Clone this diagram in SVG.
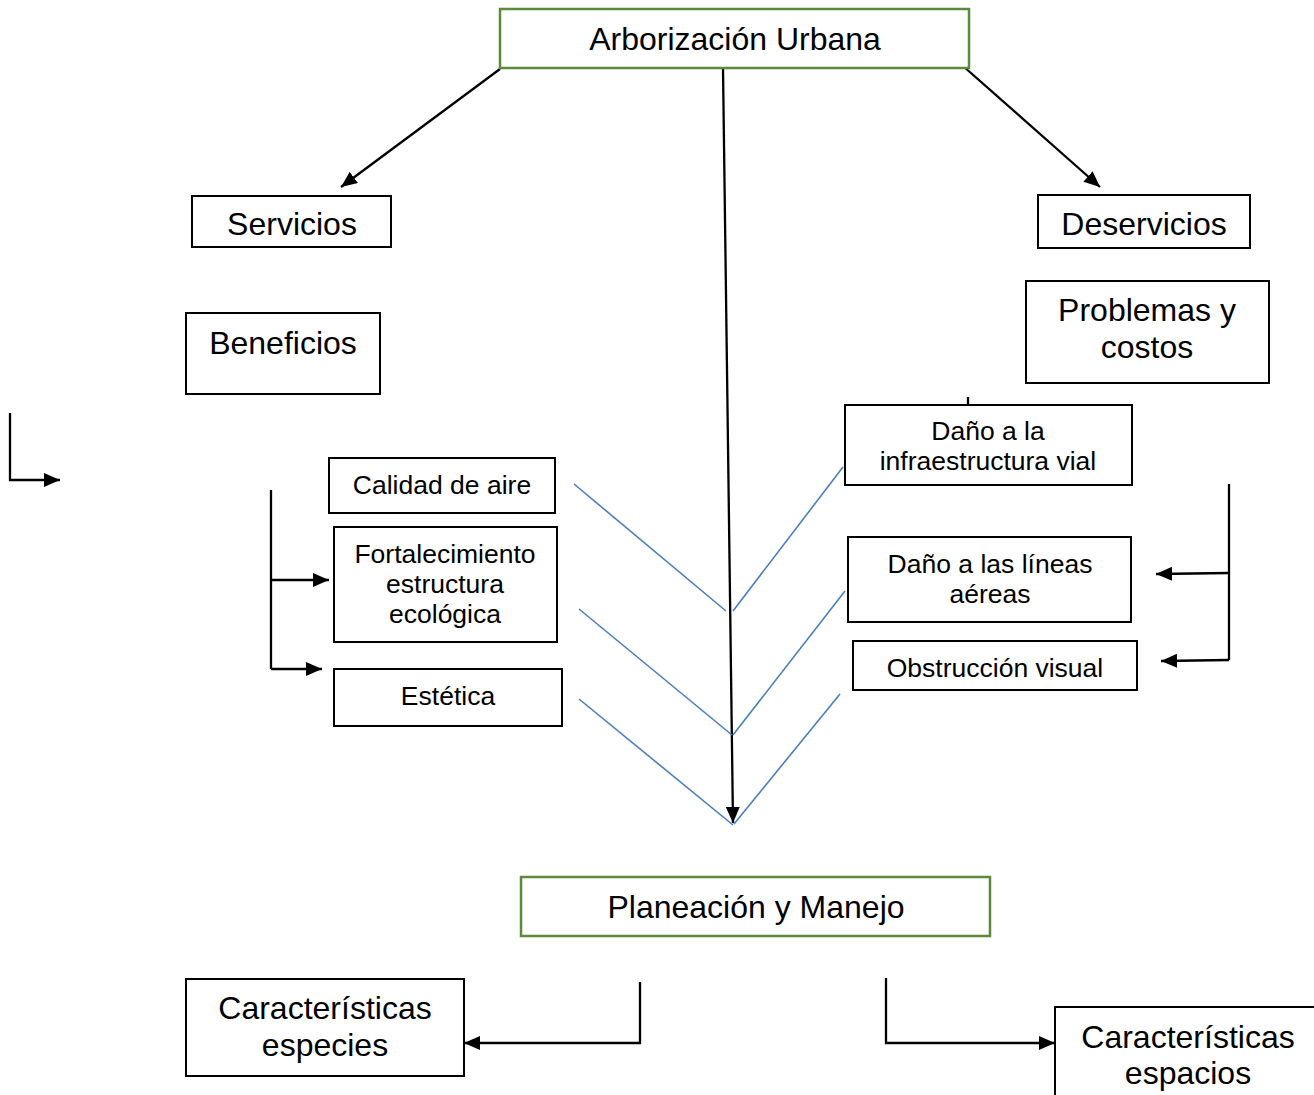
<svg xmlns="http://www.w3.org/2000/svg" width="1314" height="1095" viewBox="0 0 1314 1095">
<style>
.box{fill:#fff;stroke:#000;stroke-width:2}
.gbox{fill:#fff;stroke:#5b8a3c;stroke-width:2.5}
.t{font-family:"Liberation Sans",Arial,sans-serif;fill:#000;text-anchor:middle}
.lg{font-size:32px}
.sm{font-size:26.5px}
.ln{stroke:#000;stroke-width:2.3;fill:none}
.bl{stroke:#4a7ebb;stroke-width:1.6;fill:none}
</style>
<defs>
<marker id="ah" markerUnits="userSpaceOnUse" markerWidth="18" markerHeight="14" refX="16" refY="7" orient="auto">
<path d="M0,0 L16,7 L0,14 Z" fill="#000"/>
</marker>
</defs>
<rect width="1314" height="1095" fill="#fff"/>
<g id="connectors">
<line class="ln" x1="500" y1="69" x2="341" y2="187" marker-end="url(#ah)"/>
<line class="ln" x1="963" y1="66" x2="1100" y2="187" marker-end="url(#ah)"/>
<line class="ln" x1="723" y1="68" x2="733" y2="823" marker-end="url(#ah)"/>
<polyline class="ln" points="10,413 10,480 60,480" marker-end="url(#ah)"/>
<line class="ln" x1="271" y1="490" x2="271" y2="669"/>
<line class="ln" x1="271" y1="580" x2="329" y2="580" marker-end="url(#ah)"/>
<line class="ln" x1="271" y1="669" x2="322" y2="669" marker-end="url(#ah)"/>
<line class="ln" x1="1229" y1="484" x2="1229" y2="660"/>
<line class="ln" x1="1229" y1="573" x2="1156" y2="574" marker-end="url(#ah)"/>
<line class="ln" x1="1229" y1="660" x2="1161" y2="661" marker-end="url(#ah)"/>
<line class="ln" x1="968" y1="397" x2="968" y2="405"/>
<polyline class="ln" points="640,982 640,1043 464,1043" marker-end="url(#ah)"/>
<polyline class="ln" points="886,978 886,1043 1055,1043" marker-end="url(#ah)"/>
<line class="bl" x1="574" y1="484" x2="726" y2="611"/>
<line class="bl" x1="579" y1="609" x2="732" y2="735"/>
<line class="bl" x1="579" y1="699" x2="733" y2="825"/>
<line class="bl" x1="843" y1="467" x2="733" y2="611"/>
<line class="bl" x1="845" y1="591" x2="733" y2="735"/>
<line class="bl" x1="840" y1="694" x2="734" y2="824"/>
</g>
<g id="arborizacion">
<rect class="gbox" x="500" y="9" width="469" height="59"/>
<text class="t lg" x="735" y="50">Arborización Urbana</text>
</g>
<g id="servicios">
<rect class="box" x="192" y="196" width="199" height="51"/>
<text class="t lg" x="292" y="235">Servicios</text>
</g>
<g id="deservicios">
<rect class="box" x="1038" y="195" width="212" height="53"/>
<text class="t lg" x="1144" y="235">Deservicios</text>
</g>
<g id="beneficios">
<rect class="box" x="186" y="313" width="194" height="81"/>
<text class="t lg" x="283" y="354">Beneficios</text>
</g>
<g id="problemas">
<rect class="box" x="1026" y="281" width="243" height="102"/>
<text class="t lg" x="1147" y="321">Problemas y</text>
<text class="t lg" x="1147" y="358">costos</text>
</g>
<g id="calidad">
<rect class="box" x="329" y="458" width="226" height="55"/>
<text class="t sm" x="442" y="494">Calidad de aire</text>
</g>
<g id="fortalecimiento">
<rect class="box" x="334" y="527" width="223" height="115"/>
<text class="t sm" x="445" y="563">Fortalecimiento</text>
<text class="t sm" x="445" y="593">estructura</text>
<text class="t sm" x="445" y="623">ecológica</text>
</g>
<g id="estetica">
<rect class="box" x="334" y="669" width="228" height="57"/>
<text class="t sm" x="448" y="705">Estética</text>
</g>
<g id="dano-infra">
<rect class="box" x="845" y="405" width="287" height="80"/>
<text class="t sm" x="988" y="440">Daño a la</text>
<text class="t sm" x="988" y="470">infraestructura vial</text>
</g>
<g id="dano-lineas">
<rect class="box" x="848" y="537" width="283" height="85"/>
<text class="t sm" x="990" y="573">Daño a las líneas</text>
<text class="t sm" x="990" y="603">aéreas</text>
</g>
<g id="obstruccion">
<rect class="box" x="853" y="641" width="284" height="49"/>
<text class="t sm" x="995" y="677">Obstrucción visual</text>
</g>
<g id="planeacion">
<rect class="gbox" x="521" y="877" width="469" height="59"/>
<text class="t lg" x="756" y="918">Planeación y Manejo</text>
</g>
<g id="especies">
<rect class="box" x="186" y="979" width="278" height="97"/>
<text class="t lg" x="325" y="1019">Características</text>
<text class="t lg" x="325" y="1056">especies</text>
</g>
<g id="espacios">
<rect class="box" x="1055" y="1007" width="270" height="100"/>
<text class="t lg" x="1188" y="1048">Características</text>
<text class="t lg" x="1188" y="1084">espacios</text>
</g>
</svg>
